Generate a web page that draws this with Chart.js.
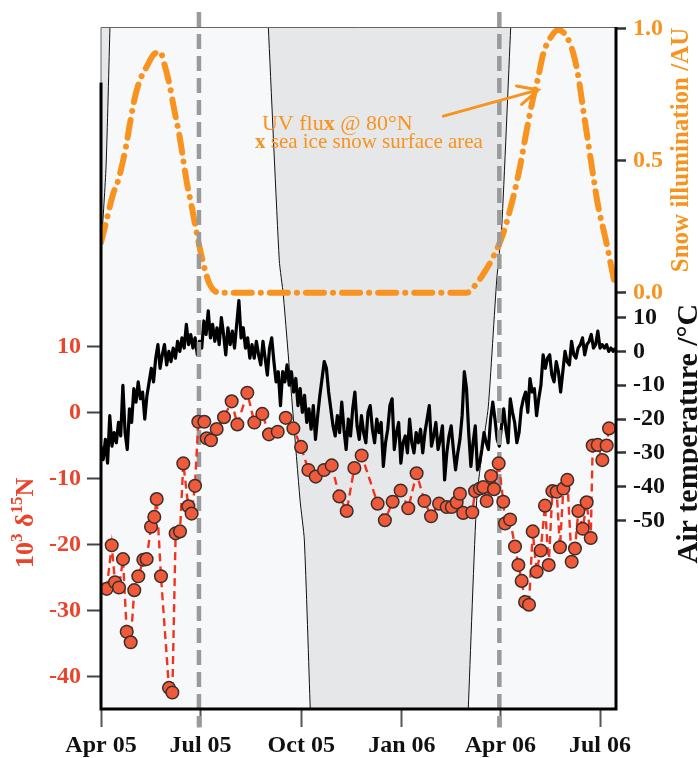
<!DOCTYPE html>
<html><head><meta charset="utf-8">
<script src="https://cdn.jsdelivr.net/npm/chart.js@4.4.1/dist/chart.umd.min.js"></script>
<style>html,body{margin:0;padding:0;background:#fff}canvas{display:block}</style>
</head><body>
<canvas id="c" width="698" height="758"></canvas>
<script>
// ---------- data (x = days since 1 Apr 2005) ----------
const xTickDays = [0, 91, 183, 275, 365, 456];
const xTickLabels = ['Apr 05', 'Jul 05', 'Oct 05', 'Jan 06', 'Apr 06', 'Jul 06'];
const d15nTicks = [-40, -30, -20, -10, 0, 10];
const tempTicks = [-50, -40, -30, -20, -10, 0, 10];
const snowTicks = [0.0, 0.5, 1.0];

const d15nDays = [5.2, 9.8, 12.8, 16.4, 20.1, 23.5, 27.1, 30.4, 34.1, 38.7, 41.7, 45.7, 48.7, 50.9, 54.8, 62.1, 65.2, 68.2, 72.2, 75.2, 79.8, 82.8, 85.9, 88.9, 94.4, 96.6, 100.5, 105.7, 112.4, 119.4, 124.6, 133.7, 140.1, 147.4, 153.5, 161.5, 168.8, 175.8, 182.8, 189.5, 196.2, 203.8, 210.8, 217.8, 224.5, 231.5, 238.2, 252.8, 259.4, 266.5, 273.8, 280.8, 288.4, 295.5, 301.6, 308.9, 315.9, 320.5, 325.0, 328.0, 331.0, 339.3, 341.8, 346.3, 349.4, 352.4, 356.4, 359.1, 363.4, 367.6, 369.2, 373.8, 378.3, 381.4, 384.4, 387.5, 391.1, 394.5, 398.1, 401.8, 405.7, 409.1, 412.5, 416.4, 419.4, 422.5, 426.1, 430.1, 433.1, 436.2, 440.2, 443.8, 447.5, 449.3, 453.9, 458.1, 462.1, 464.2];
const d15nValues = [-26.7, -20.1, -25.7, -26.5, -22.2, -33.2, -34.8, -26.9, -24.8, -22.3, -22.2, -17.3, -15.8, -13.1, -24.8, -41.7, -42.4, -18.3, -18.0, -7.7, -14.2, -15.3, -11.1, -1.4, -1.4, -3.9, -4.2, -2.5, -0.7, 1.7, -1.8, 3.0, -1.5, -0.2, -3.3, -2.9, -0.8, -2.4, -5.2, -8.7, -9.7, -8.7, -8.0, -12.7, -14.9, -8.4, -6.5, -13.8, -16.3, -13.5, -11.8, -14.5, -9.2, -13.4, -15.7, -13.8, -14.3, -14.3, -13.6, -12.3, -15.2, -15.1, -11.9, -11.5, -11.3, -13.4, -9.6, -11.6, -7.7, -13.5, -16.8, -16.2, -20.3, -23.1, -25.5, -28.7, -29.1, -18.0, -24.1, -20.9, -14.1, -23.1, -11.9, -12.0, -20.4, -11.5, -10.2, -22.6, -20.6, -14.9, -17.6, -13.6, -19.0, -5.0, -4.9, -7.2, -5.0, -2.4];

// air temperature, read every 2 days (day = 2 * index)
const tempStartDay = 0;
const tempStepDays = 2;
const tempValues = [
  -28, -32, -26, -33, -19, -28, -24, -27, -21, -25, -10, -24, -29, -17, -21, -11, -15, -9, -14, -12,
  -20, -13, -9, -5, -9, -2, 2, -5, -1, 2, -4, 0, -3, 1, -2, 3, 0, 4, 1, 8,
  2, 5, 1, 4, -1, 3, 1, 9, 5, 12, 4, 8, 3, 7, 2, 10, 5, -1, 7, 2,
  6, 1, 8, 15, 4, 7, 1, 4, -2, 2, -2, 3, -1, -4, 3, -2, -7, 1, 4, -3,
  -9, -6, -16, -6, -9, -4, -10, -6, -12, -8, -16, -11, -18, -13, -21, -17, -23, -16, -26, -19,
  -13, -8, -3, -5, -12, -17, -22, -25, -19, -24, -15, -23, -29, -20, -25, -17, -12, -22, -26, -19,
  -24, -27, -18, -16, -23, -27, -20, -24, -21, -34, -27, -23, -16, -14, -29, -24, -21, -33, -27, -25,
  -30, -20, -27, -30, -24, -27, -23, -30, -24, -20, -16, -28, -25, -21, -29, -26, -22, -38, -30, -25,
  -22, -29, -35, -30, -26, -19, -6, -11, -24, -34, -27, -22, -35, -33, -29, -24, -27, -29, -20, -15,
  -20, -26, -28, -22, -17, -23, -27, -14, -18, -21, -27, -24, -17, -14, -12, -18, -8, -12, -11, -19,
  -14, -10, -1, -5, -2, -1, -7, -9, -3, -6, -12, -6, 0, -3, -4, 3, -1, -2, 1, 2,
  4, -1, 2, 3, 5, 1, 2, 6, 1, 2, 1, 2, 0, 1, 0, 1
];

const snowDays = [0, 3.7, 11.2, 15.8, 22.8, 26.5, 31.1, 35.6, 41.8, 47.8, 53.9, 58.5, 63.0, 67.6, 71.3, 75.2, 78.3, 82.9, 87.5, 92.0, 99.0, 108.7, 334.2, 343.3, 350.0, 358.5, 367.6, 376.8, 382.9, 389.0, 394.5, 399.6, 404.2, 410.3, 417.9, 425.6, 431.6, 436.2, 440.7, 445.3, 449.9, 454.4, 460.6, 469.7];
const snowValues = [0.19, 0.25, 0.376, 0.426, 0.552, 0.641, 0.741, 0.804, 0.855, 0.899, 0.911, 0.855, 0.779, 0.678, 0.603, 0.502, 0.42, 0.325, 0.225, 0.136, 0.035, 0, 0, 0.035, 0.075, 0.136, 0.225, 0.363, 0.477, 0.615, 0.729, 0.817, 0.905, 0.962, 0.994, 0.968, 0.905, 0.817, 0.691, 0.565, 0.439, 0.325, 0.212, 0.03];

// sunlight boundary curves (y = fraction of plot height)
const line1Days = [8.2, 4.6, 0.5, -3.4, -11, -22, -30];
const line1Frac = [1, 0.795, 0.688, 0.629, 0.443, 0.306, 0];
const line2Days = [152.9, 162.9, 166.6, 181.9, 185.8, 191.2];
const line2Frac = [1, 0.658, 0.607, 0.306, 0.248, 0];
const line3Days = [374.4, 366.2, 361.6, 353.9, 348.8, 343.3, 335.6];
const line3Frac = [1, 0.707, 0.629, 0.443, 0.384, 0.306, 0];

const markerDays = [89.5, 364];

// axis ranges
const xRange = {min: 0, max: 470.6};
const d15nRange = {min: -44.9, max: 58.4};
const tempRange = {min: -105.7, max: 95.9};
const snowRange = {min: -1.5745, max: 1.005};
const leftAxisTop = 50;

// ---------- styles ----------
const ORANGE = '#f7931e';
const RED = '#e9452c';
const SERIF = '"Liberation Serif", "DejaVu Serif", "Times New Roman", serif';

const pts = (xs, ys) => xs.map((x, i) => ({x, y: ys[i]}));
const tempPts = tempValues.map((v, i) => ({x: tempStartDay + i * tempStepDays, y: v}));
const snowToTemp = s => tempRange.min + (s - snowRange.min) / (snowRange.max - snowRange.min) * (tempRange.max - tempRange.min);

const leftRegion = [{x: -45, y: 1}].concat(pts(line1Days, line1Frac), [{x: -45, y: 0}]);
const midRegion = pts(line2Days, line2Frac).concat(pts(line3Days, line3Frac).reverse());

const bgPlugin = {
  id: 'bg',
  beforeDraw(chart) {
    const {ctx, chartArea: a} = chart;
    ctx.save();
    ctx.fillStyle = '#f7f8fa';
    ctx.fillRect(a.left, a.top, a.right - a.left, a.bottom - a.top);
    ctx.restore();
  }
};

const framePlugin = {
  id: 'frame',
  afterDatasetsDraw(chart) {
    const {ctx, chartArea: a} = chart;
    const yTop = chart.scales.y.getPixelForValue(leftAxisTop);
    ctx.save();
    ctx.strokeStyle = '#666'; ctx.lineWidth = 1;
    ctx.beginPath();
    ctx.moveTo(a.left, yTop); ctx.lineTo(a.left, a.top + 0.5); ctx.lineTo(a.right, a.top + 0.5);
    ctx.stroke();
    ctx.strokeStyle = '#000'; ctx.lineWidth = 3;
    ctx.beginPath();
    ctx.moveTo(a.left, yTop); ctx.lineTo(a.left, a.bottom); ctx.lineTo(a.right, a.bottom); ctx.lineTo(a.right, a.top);
    ctx.stroke();
    ctx.restore();
  }
};

function drawParts(ctx, x, y, parts, rotate, align) {
  ctx.save();
  ctx.translate(x, y);
  if (rotate) ctx.rotate(-Math.PI / 2);
  let total = 0;
  parts.forEach(p => { ctx.font = p.font; p.w = ctx.measureText(p.text).width; total += p.w; });
  let cx = align === 'left' ? 0 : -total / 2;
  ctx.textAlign = 'left'; ctx.textBaseline = 'alphabetic';
  parts.forEach(p => { ctx.font = p.font; ctx.fillStyle = p.color; ctx.fillText(p.text, cx, p.dy || 0); cx += p.w; });
  ctx.restore();
}

const textPlugin = {
  id: 'texts',
  afterDraw(chart) {
    const {ctx} = chart;
    const xs = chart.scales.x, ys = chart.scales.yS, yl = chart.scales.y, yt = chart.scales.yT;
    // left title
    const big = 'bold 26px ' + SERIF, small = 'bold 17px ' + SERIF;
    drawParts(ctx, 33, yl.getPixelForValue(-16.7), [
      {text: '10', font: big, color: RED},
      {text: '3', font: small, color: RED, dy: -11},
      {text: ' \u03b4', font: big, color: RED},
      {text: '15', font: small, color: RED, dy: -11},
      {text: 'N', font: big, color: RED}
    ], true);
    // right titles
    drawParts(ctx, 688, ys.getPixelForValue(0.54), [{text: 'Snow illumination /AU', font: 'bold 25px ' + SERIF, color: ORANGE}], true);
    drawParts(ctx, 697, yt.getPixelForValue(-24.3), [{text: 'Air temperature /\u00b0C', font: 'bold 30px ' + SERIF, color: '#111'}], true);
    // annotation
    const f1 = '22px ' + SERIF, f1b = 'bold 22px ' + SERIF, f2 = '21px ' + SERIF, f2b = 'bold 21px ' + SERIF;
    drawParts(ctx, xs.getPixelForValue(147.1), ys.getPixelForValue(0.615), [
      {text: 'UV flu', font: f1, color: ORANGE},
      {text: 'x', font: f1b, color: ORANGE},
      {text: ' @ 80\u00b0N', font: f1, color: ORANGE}
    ], false, 'left');
    drawParts(ctx, xs.getPixelForValue(140.7), ys.getPixelForValue(0.547), [
      {text: 'x', font: f2b, color: ORANGE},
      {text: ' sea ice snow surface area', font: f2, color: ORANGE}
    ], false, 'left');
    // arrow
    const x0 = xs.getPixelForValue(312.8), y0 = ys.getPixelForValue(0.668);
    const x1 = xs.getPixelForValue(399.5), y1 = ys.getPixelForValue(0.767);
    const ang = Math.atan2(y1 - y0, x1 - x0);
    ctx.save();
    ctx.strokeStyle = ORANGE; ctx.lineWidth = 3; ctx.lineCap = 'round';
    ctx.beginPath(); ctx.moveTo(x0, y0); ctx.lineTo(x1, y1);
    ctx.moveTo(x1 - 22 * Math.cos(ang - 0.45), y1 - 22 * Math.sin(ang - 0.45));
    ctx.lineTo(x1, y1);
    ctx.lineTo(x1 - 22 * Math.cos(ang + 0.45), y1 - 22 * Math.sin(ang + 0.45));
    ctx.stroke();
    ctx.restore();
  }
};

const tickFont = {family: SERIF, size: 24, weight: 'bold'};

new Chart(document.getElementById('c'), {
  type: 'line',
  data: {
    datasets: [
      { // d15N
        data: pts(d15nDays, d15nValues), yAxisID: 'y', order: 0,
        borderColor: '#f0341f', borderWidth: 2.4, borderDash: [8, 5],
        pointRadius: 6.3, pointBackgroundColor: '#ef5b3a', pointBorderColor: '#3d2e2b', pointBorderWidth: 1.5,
        tension: 0, fill: false
      },
      { // markers
        data: [{x: markerDays[0], y: 1.022}, {x: markerDays[0], y: -0.027}], yAxisID: 'yF', order: 1,
        borderColor: '#9a9a9a', borderWidth: 4.5, borderDash: [15, 7], pointRadius: 0, clip: false, fill: false
      },
      {
        data: [{x: markerDays[1], y: 1.022}, {x: markerDays[1], y: -0.027}], yAxisID: 'yF', order: 1,
        borderColor: '#9a9a9a', borderWidth: 4.5, borderDash: [15, 7], pointRadius: 0, clip: false, fill: false
      },
      { // air temperature
        data: tempPts, yAxisID: 'yT', order: 2,
        borderColor: '#000', borderWidth: 3.2, borderJoinStyle: 'round', pointRadius: 0, tension: 0, fill: false
      },
      { // snow illumination
        data: pts(snowDays, snowValues), yAxisID: 'yS', order: 3,
        borderColor: ORANGE, borderWidth: 6, borderDash: [18, 9, 0.1, 9], borderCapStyle: 'round',
        pointRadius: 0, cubicInterpolationMode: 'monotone', fill: false
      },
      { data: pts(line1Days, line1Frac), yAxisID: 'yF', order: 4, borderColor: '#111', borderWidth: 1, pointRadius: 0, tension: 0.2, fill: false },
      { data: pts(line2Days, line2Frac), yAxisID: 'yF', order: 4, borderColor: '#111', borderWidth: 1, pointRadius: 0, tension: 0.2, fill: false },
      { data: pts(line3Days, line3Frac), yAxisID: 'yF', order: 4, borderColor: '#111', borderWidth: 1, pointRadius: 0, tension: 0.2, fill: false },
      { data: leftRegion, yAxisID: 'yF', order: 5, borderWidth: 0, borderColor: 'rgba(0,0,0,0)', backgroundColor: '#e6e7e9', pointRadius: 0, tension: 0, fill: 'shape' },
      { data: midRegion, yAxisID: 'yF', order: 5, borderWidth: 0, borderColor: 'rgba(0,0,0,0)', backgroundColor: '#e6e7e9', pointRadius: 0, tension: 0, fill: 'shape' }
    ]
  },
  options: {
    responsive: false, animation: false, devicePixelRatio: 1,
    layout: {padding: {top: 27, left: 0, right: 0, bottom: 0}},
    plugins: {legend: {display: false}, tooltip: {enabled: false}, title: {display: false}},
    scales: {
      x: {
        type: 'linear', position: 'bottom', min: xRange.min, max: xRange.max,
        afterBuildTicks: s => { s.ticks = xTickDays.map(v => ({value: v})); },
        afterFit: s => { s.height = 49; },
        ticks: {autoSkip: false, maxRotation: 0, minRotation: 0, padding: 4, color: '#111', font: tickFont,
          callback: (v, i) => xTickLabels[i]},
        grid: {drawOnChartArea: false, drawTicks: true, tickLength: 18, tickWidth: 2, tickColor: '#555'},
        border: {display: false}
      },
      y: {
        type: 'linear', position: 'left', min: d15nRange.min, max: d15nRange.max,
        afterBuildTicks: s => { s.ticks = d15nTicks.map(v => ({value: v})); },
        afterFit: s => { s.width = 101; },
        ticks: {autoSkip: false, padding: 6, color: RED, font: tickFont, callback: v => String(v)},
        grid: {drawOnChartArea: false, drawTicks: true, tickLength: 14, tickWidth: 2, tickColor: '#444'},
        border: {display: false}
      },
      yT: {
        type: 'linear', position: 'right', min: tempRange.min, max: tempRange.max,
        afterBuildTicks: s => {
          s.ticks = tempTicks.map(v => ({value: v})).concat(snowTicks.map(v => ({value: snowToTemp(v), snow: v})));
        },
        afterFit: s => { s.width = 82; },
        ticks: {autoSkip: false, padding: 7, font: tickFont,
          color: ctx => (ctx.tick && ctx.tick.snow !== undefined) ? ORANGE : '#111',
          callback: (v, i, ticks) => ticks[i].snow !== undefined ? ticks[i].snow.toFixed(1) : String(v)},
        grid: {drawOnChartArea: false, drawTicks: true, tickLength: 10, tickWidth: 2.5, tickColor: '#333'},
        border: {display: false}
      },
      yS: {type: 'linear', display: false, min: snowRange.min, max: snowRange.max},
      yF: {type: 'linear', display: false, min: 0, max: 1}
    }
  },
  plugins: [bgPlugin, framePlugin, textPlugin]
});
</script>
</body></html>
